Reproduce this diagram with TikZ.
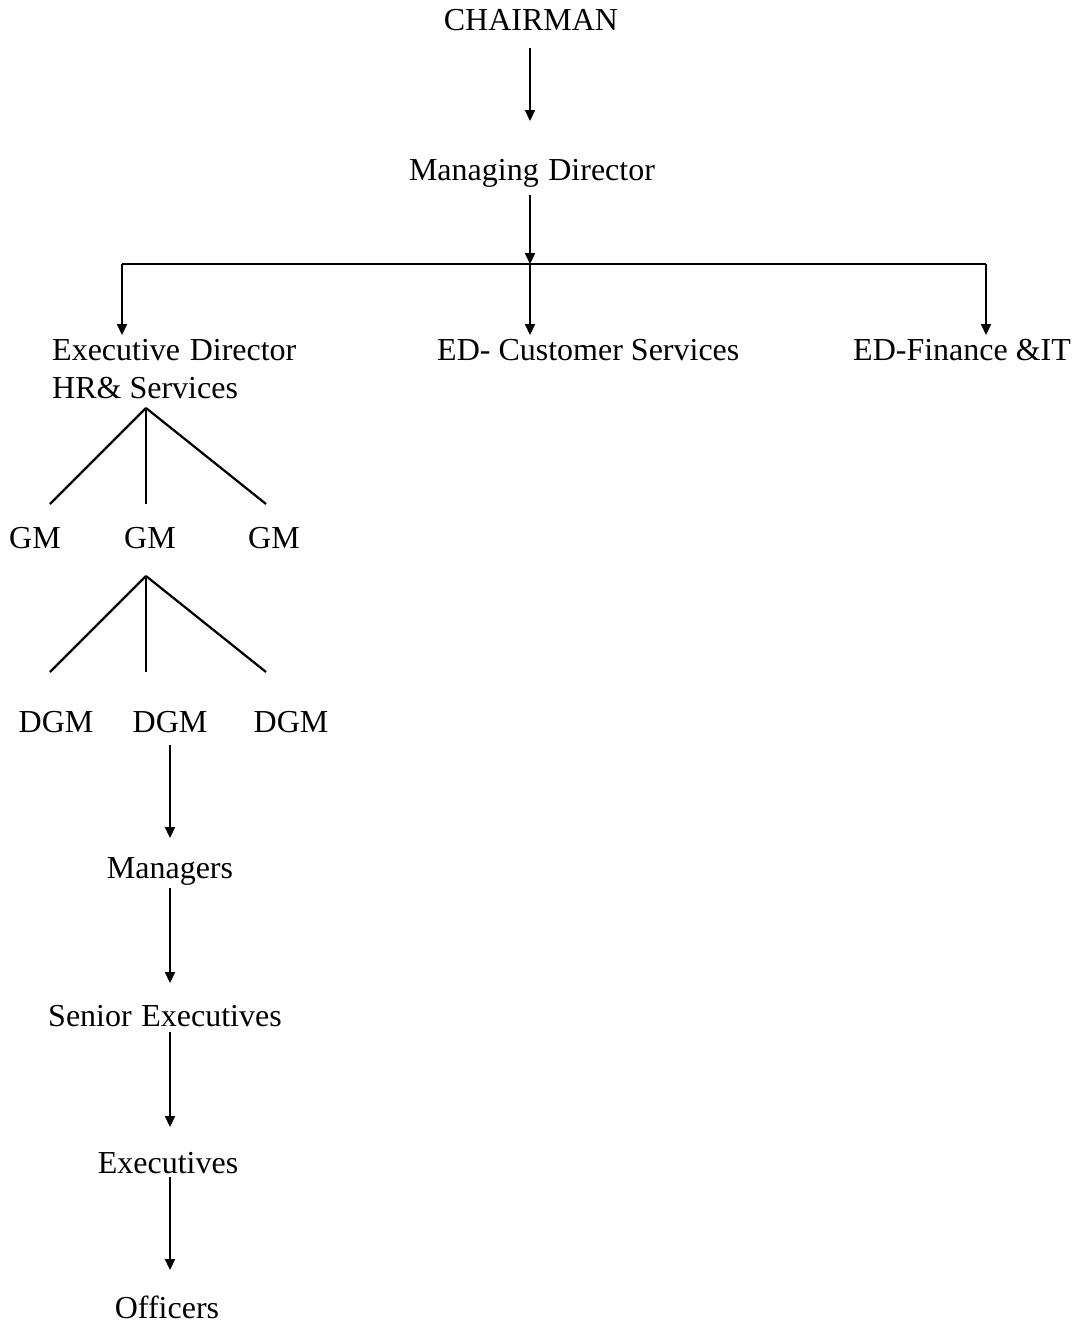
\documentclass[tikz,border=0pt]{standalone}
\usepackage{fontspec}
\setmainfont{Liberation Serif}
\usetikzlibrary{arrows.meta}
\tikzset{
  lbl/.style={font=\fontsize{32}{38}\selectfont, inner sep=0pt, text height=22pt, text depth=7pt, anchor=base},
  lblw/.style={lbl, anchor=base west},
  link/.style={line width=2.2pt, line cap=butt},
  arr/.style={link, -{Triangle[length=11pt,width=10pt]}}
}
\newcommand{\wsp}{\hspace{0.3em}}
\begin{document}
\begin{tikzpicture}[x=1pt,y=-1pt]
\useasboundingbox (0,0) rectangle (1077,1328);
% nodes
\node[lbl] (ch) at (531,30) {CHAIRMAN};
\node[lbl] (md) at (532,180) {Managing\wsp Director};
\node[lblw] (ed1) at (52,360) {Executive\wsp Director};
\node[lblw] (ed2) at (52,398) {HR\& Services};
\node[lblw] (edc) at (437,360) {ED- Customer Services};
\node[lblw] (edf) at (853,360) {ED-Finance \&IT};
\node[lbl] (gm1) at (35,548) {GM};
\node[lbl] (gm2) at (150,548) {GM};
\node[lbl] (gm3) at (274,548) {GM};
\node[lbl] (dgm1) at (56,732) {DGM};
\node[lbl] (dgm2) at (170,732) {DGM};
\node[lbl] (dgm3) at (291,732) {DGM};
\node[lbl] (mgr) at (170,878) {Managers};
\node[lbl] (sen) at (165,1026) {Senior\wsp Executives};
\node[lbl] (exe) at (168,1173) {Executives};
\node[lbl] (off) at (167,1318) {Officers};
% coordinates
\coordinate (bm) at (530,264);
\coordinate (bl) at (122,264);
\coordinate (br) at (986,264);
\coordinate (t1) at (146,408);
\coordinate (t2) at (146,576);
% connectors
\draw[arr] (530,48) -- (530,121);
\draw[arr] (530,195) -- (bm);
\draw[link] (bl) -- (br);
\draw[arr] (bl) -- (122,335);
\draw[arr] (bm) -- (530,335);
\draw[arr] (br) -- (986,335);
\draw[link] (t1) -- (50,504);
\draw[link] (t1) -- (146,504);
\draw[link] (t1) -- (266,504);
\draw[link] (t2) -- (50,672);
\draw[link] (t2) -- (146,672);
\draw[link] (t2) -- (266,672);
\draw[arr] (170,745) -- (170,838);
\draw[arr] (170,888) -- (170,983);
\draw[arr] (170,1032) -- (170,1127);
\draw[arr] (170,1177) -- (170,1270);
\end{tikzpicture}
\end{document}
